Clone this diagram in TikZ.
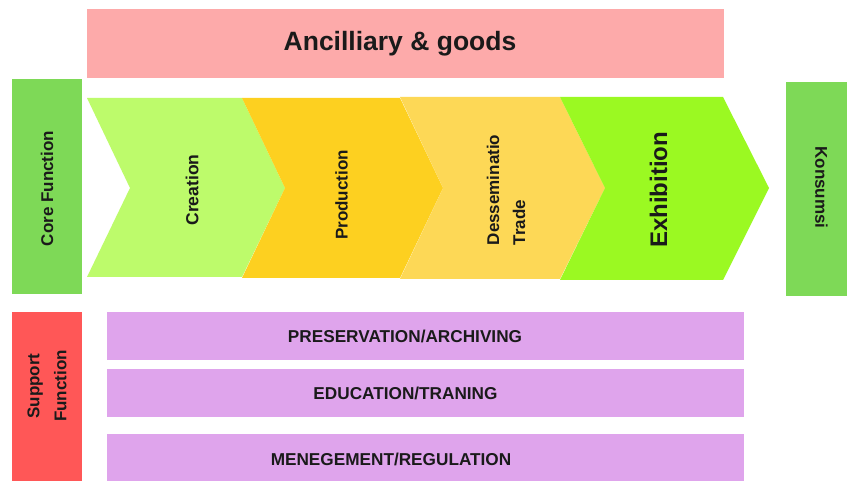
\documentclass[tikz,border=0pt]{standalone}
\usepackage{fontspec}
\setmainfont{Liberation Sans}
\definecolor{pinkc}{HTML}{FDAAAA}
\definecolor{greenc}{HTML}{7ED957}
\definecolor{redc}{HTML}{FF5757}
\definecolor{purp}{HTML}{DFA4EC}
\definecolor{creac}{HTML}{BDFB6B}
\definecolor{prodc}{HTML}{FDD020}
\definecolor{dessc}{HTML}{FDD856}
\definecolor{exhc}{HTML}{9BF922}
\definecolor{ink}{HTML}{1A1A1A}
\begin{document}
\begin{tikzpicture}[x=1pt,y=-1pt,
  txt/.style={text=ink,inner sep=0pt,font=\bfseries\fontsize{17}{27}\selectfont},
  bartxt/.style={txt,font=\bfseries\fontsize{17.2}{20}\selectfont},
  up/.style={txt,rotate=90},
  down/.style={txt,rotate=-90}]
\useasboundingbox (0,0) rectangle (847,481);
\fill[white] (0,0) rectangle (847,481);

% top box
\fill[pinkc] (87,9) rectangle (724,78);
\node[txt,font=\bfseries\fontsize{26.5}{30}\selectfont] (anc) at (400,44) {Ancilliary \& goods};

% side boxes
\fill[greenc] (12,79) rectangle (82,294);
\node[up] (core) at (47,188.5) {Core Function};
\fill[greenc] (786,82) rectangle (847,296);
\node[down] (kons) at (821.5,187.5) {Konsumsi};
\fill[redc] (12,312) rectangle (82,481);
\node[up,align=center] (supp) at (47,386) {Support\\Function};

% chevrons
\fill[creac] (87,98) -- (242,98) -- (285,188) -- (242,277) -- (87,277) -- (130,188) -- cycle;
\fill[prodc] (242,98) -- (400,98) -- (443,188) -- (400,278) -- (242,278) -- (285,188) -- cycle;
\fill[dessc] (400,97) -- (560,97) -- (605,188) -- (560,279) -- (400,279) -- (443,188) -- cycle;
\fill[exhc] (560,97) -- (723,97) -- (769,188) -- (723,280) -- (560,280) -- (605,188) -- cycle;
\node[up,font=\bfseries\fontsize{17.5}{26}\selectfont] (crea) at (192,190) {Creation};
\node[up] (prod) at (341.5,195) {Production};
\node[up,align=left,font=\bfseries\fontsize{17}{26}\selectfont] (dess) at (506,190) {Desseminatio\\Trade};
\node[up,font=\bfseries\fontsize{24}{28}\selectfont] (exh) at (658.5,190) {Exhibition};

% support bars
\fill[purp] (107,312) rectangle (744,360);
\node[bartxt] (pres) at (405,336.5) {PRESERVATION/ARCHIVING};
\fill[purp] (107,369) rectangle (744,417);
\node[bartxt] (edu) at (405.5,393) {EDUCATION/TRANING};
\fill[purp] (107,434) rectangle (744,481);
\node[bartxt] (men) at (391,459) {MENEGEMENT/REGULATION};
\end{tikzpicture}
\end{document}
